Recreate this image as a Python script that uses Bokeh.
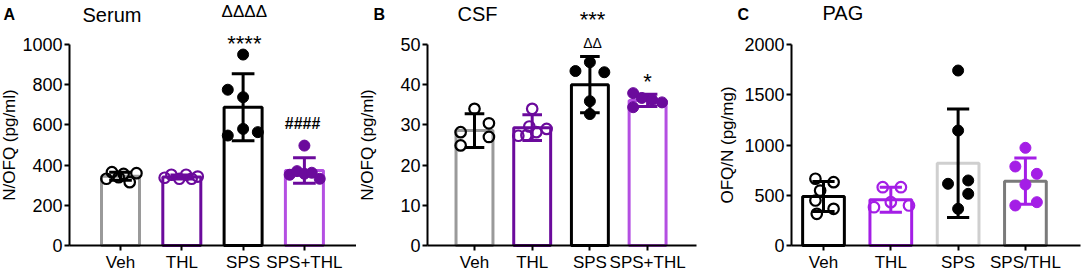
from bokeh.plotting import figure
from bokeh.layouts import row
from bokeh.models import FixedTicker, Range1d
from bokeh.core.properties import value
from bokeh.embed import file_html
from bokeh.resources import INLINE

FONT = "Liberation Sans"

# ---------------- data ----------------
cats_ab = ["Veh", "THL", "SPS", "SPS+THL"]
cats_c = ["Veh", "THL", "SPS", "SPS/THL"]

# Panel A: Serum N/OFQ (pg/ml)
serum_points = [
    [332, 365, 340, 356, 315, 360],
    [337, 352, 332, 352, 332, 343],
    [950, 775, 738, 547, 580, 564],
    [497, 352, 370, 357, 362, 332],
]
serum_jitter = [
    [-0.23, -0.14, -0.03, 0.05, 0.15, 0.26],
    [-0.28, -0.17, -0.04, 0.07, 0.16, 0.26],
    [0.0, -0.25, 0.0, -0.25, 0.0, 0.24],
    [0.0, -0.24, -0.12, 0.0, 0.12, 0.25],
]
serum_mean = [345, 341, 688, 373]
serum_sd = [20, 10, 167, 63]

# Panel B: CSF N/OFQ (pg/ml)
csf_points = [
    [34.0, 28.2, 30.4, 24.9, 27.0],
    [34.0, 29.6, 27.3, 28.2, 29.0, 27.4],
    [45.6, 43.4, 43.1, 35.9, 32.7],
    [37.9, 34.4, 36.7, 36.2, 35.6],
]
csf_jitter = [
    [0.0, -0.24, 0.25, -0.24, 0.25],
    [0.0, -0.05, -0.24, 0.07, 0.25, -0.1],
    [0.0, -0.25, 0.25, 0.0, 0.0],
    [-0.25, -0.25, -0.1, 0.08, 0.25],
]
csf_mean = [28.6, 29.3, 40.0, 36.1]
csf_sd = [4.2, 3.2, 7.0, 1.5]

# Panel C: PAG OFQ/N (pg/mg)
pag_points = [
    [664, 630, 547, 448, 365, 315],
    [580, 580, 431, 381, 398],
    [1741, 1144, 614, 647, 514, 365],
    [972, 786, 713, 607, 398, 431],
]
pag_jitter = [
    [-0.12, 0.15, -0.05, -0.12, 0.15, -0.1],
    [-0.12, 0.15, 0.0, -0.25, 0.27],
    [0.0, 0.0, -0.15, 0.15, 0.15, 0.0],
    [0.0, -0.15, 0.17, 0.0, -0.15, 0.17],
]
pag_mean = [488, 455, 819, 640]
pag_sd = [150, 125, 540, 230]

# ---------------- styles ----------------
bar_colors_ab = ["#9a9a9a", "#6b0a9c", "#000000", "#b44fe2"]
pt_colors_ab = ["#000000", "#6b0a9c", "#000000", "#6b0a9c"]
bar_colors_c = ["#000000", "#a41ee6", "#cfcfcf", "#7a7a7a"]
pt_colors_c = ["#000000", "#a41ee6", "#000000", "#a41ee6"]
filled = [False, False, True, True]

FIG_H = 272
ZERO_PX = 245   # pixel row of the value 0
TOP_PX = 44     # pixel row of the top tick


def make_panel(cats, points, jitter, means, sds, bar_cols, pt_cols, ymax, ystep,
               ylabel, xr, axis_x, xend, width, label_standoff, bar_w, cap_w):
    ppu = (ZERO_PX - TOP_PX) / ymax
    y0 = -(FIG_H - ZERO_PX) / ppu
    y1 = ZERO_PX / ppu
    p = figure(width=width, height=FIG_H, output_backend="svg", toolbar_location=None,
               x_range=Range1d(*xr), y_range=Range1d(y0, y1),
               min_border_left=0, min_border_right=0,
               min_border_top=0, min_border_bottom=0)
    p.outline_line_color = None
    p.grid.visible = False
    p.background_fill_color = None
    p.border_fill_color = None

    xs = list(range(len(cats)))
    p.vbar(x=xs, top=means, width=bar_w, bottom=0, fill_color=None,
           line_color=bar_cols, line_width=3)
    lo = [m - s for m, s in zip(means, sds)]
    hi = [m + s for m, s in zip(means, sds)]
    p.segment(x0=xs, y0=lo, x1=xs, y1=hi, line_color=pt_cols, line_width=3)
    p.segment(x0=[x - cap_w / 2 for x in xs], y0=hi, x1=[x + cap_w / 2 for x in xs], y1=hi,
              line_color=pt_cols, line_width=3)
    p.segment(x0=[x - cap_w / 2 for x in xs], y0=lo, x1=[x + cap_w / 2 for x in xs], y1=lo,
              line_color=pt_cols, line_width=3)
    for i, (vals, jit) in enumerate(zip(points, jitter)):
        px = [i + j for j in jit]
        if filled[i]:
            p.scatter(px, vals, size=11, fill_color=pt_cols[i], line_color=pt_cols[i], line_width=1)
        else:
            p.scatter(px, vals, size=10.5, fill_color=None, line_color=pt_cols[i], line_width=2.2)

    xa = p.xaxis[0]
    xa.fixed_location = 0
    xa.ticker = FixedTicker(ticks=xs)
    xa.bounds = (axis_x, xend)
    xa.major_label_overrides = {i: c for i, c in enumerate(cats)}
    xa.axis_line_width = 2
    xa.major_tick_line_width = 2
    xa.major_tick_out = 5
    xa.major_tick_in = 0
    xa.minor_tick_line_color = None
    xa.major_label_standoff = 2
    xa.major_label_text_font = FONT
    xa.major_label_text_font_size = "17px"
    xa.major_label_text_color = "#000000"

    ya = p.yaxis[0]
    ya.fixed_location = axis_x
    ya.ticker = FixedTicker(ticks=list(range(0, ymax + 1, ystep)))
    ya.bounds = (0, ymax)
    ya.axis_line_width = 2
    ya.major_tick_line_width = 2
    ya.major_tick_out = 5
    ya.major_tick_in = 0
    ya.minor_tick_line_color = None
    ya.major_label_standoff = 2
    ya.major_label_text_font = FONT
    ya.major_label_text_font_size = "18px"
    ya.major_label_text_color = "#000000"
    ya.axis_label = ylabel
    ya.axis_label_text_font = FONT
    ya.axis_label_text_font_size = "17px"
    ya.axis_label_text_font_style = "normal"
    ya.axis_label_text_color = "#000000"
    ya.axis_label_standoff = label_standoff
    return p


def add_text(p, x, y, text, size, bold=False, align="center"):
    p.text(x=[x], y=[y], text=[text], text_font=value(FONT), text_font_size=size,
           text_font_style="bold" if bold else "normal", text_align=align,
           text_baseline="middle", text_color="#000000")


# Panel A  (figure spans x 0..356)
pA = make_panel(cats_ab, serum_points, serum_jitter, serum_mean, serum_sd,
                bar_colors_ab, pt_colors_ab, 1000, 200, "N/OFQ (pg/ml)",
                (-1.958, 3.850), -0.832, 3.850, 356, 0, 0.62, 0.37)
add_text(pA, -1.909, 1149, "A", "16px", bold=True, align="left")
add_text(pA, -0.62, 1149, "Serum", "20px", align="left")
add_text(pA, 2.02, 1164, "\u0394\u0394\u0394\u0394", "17px")
add_text(pA, 2.02, 1007, "****", "22px")
add_text(pA, 2.97, 607, "####", "16px", bold=True)

# Panel B  (figure spans x 356..718)
pB = make_panel(cats_ab, csf_points, csf_jitter, csf_mean, csf_sd,
                bar_colors_ab, pt_colors_ab, 50, 10, "N/OFQ (pg/ml)",
                (-2.045, 4.229), -0.815, 3.847, 362, 20, 0.64, 0.34)
add_text(pB, -1.75, 57.46, "B", "16px", bold=True, align="left")
add_text(pB, -0.295, 57.7, "CSF", "20px", align="left")
add_text(pB, 2.045, 56.1, "***", "22px")
add_text(pB, 2.045, 50.4, "\u0394\u0394", "14px")
add_text(pB, 3.0, 40.9, "*", "22px")

# Panel C  (figure spans x 718..1082)
pC = make_panel(cats_c, pag_points, pag_jitter, pag_mean, pag_sd,
                bar_colors_c, pt_colors_c, 2000, 500, "OFQ/N (pg/mg)",
                (-1.560, 3.848), -0.475, 3.819, 364, 4, 0.62, 0.33)
add_text(pC, -1.278, 2299, "C", "16px", bold=True, align="left")
add_text(pC, -0.015, 2309, "PAG", "20px", align="left")

layout = row(pA, pB, pC)
open("out.html", "w").write(file_html(layout, INLINE))
